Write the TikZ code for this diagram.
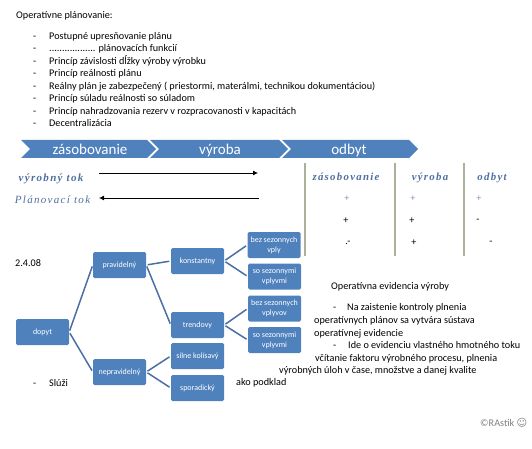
\documentclass[tikz,border=0pt]{standalone}
\usepackage{fontspec}
\setmainfont{Carlito}
\newfontfamily\flowfont[LetterSpace=12]{Liberation Serif}
\newfontfamily\symfont{DejaVu Sans}
\usetikzlibrary{arrows.meta}
\definecolor{boxblue}{HTML}{4F81BD}
\definecolor{linkblue}{HTML}{4A6FA5}
\definecolor{barcol}{HTML}{ABB29C}
\definecolor{flowblue}{HTML}{4F6F9F}
\tikzset{
  body/.style={anchor=base west,inner sep=0pt,font=\fontsize{10.2}{12}\selectfont,text=black},
  tbox/.style={draw=none,fill=boxblue,rounded corners=1.5pt,minimum width=53pt,minimum height=26pt,inner sep=0pt,align=center,text=white,font=\fontsize{8}{10}\selectfont},
  link/.style={draw=linkblue,line width=1.5pt,shorten >=1.5pt,shorten <=1.5pt},
  chev/.style={fill=boxblue,draw=none},
  chevtext/.style={anchor=base,inner sep=0pt,text=white,font=\fontsize{15}{18}\selectfont},
  flowlabel/.style={anchor=base,inner sep=0pt,text=flowblue,font=\fontsize{11}{13}\flowfont\bfseries\itshape},
  flowlight/.style={anchor=base,inner sep=0pt,text=flowblue,font=\fontsize{11}{13}\flowfont\itshape},
  headlabel/.style={anchor=base,inner sep=0pt,text=flowblue,font=\fontsize{10.8}{13}\flowfont\bfseries\itshape},
  cellmark/.style={inner sep=0pt,font=\fontsize{10.2}{12}\selectfont},
  bluecell/.style={inner sep=0pt,text=flowblue!70,font=\fontsize{10.2}{12}\selectfont},
  tokarrow/.style={draw=black,line width=0.8pt,-{Latex[length=5pt,width=5pt]}},
  bar/.style={draw=barcol,line width=2.5pt},
}
\begin{document}
\begin{tikzpicture}[x=1pt,y=-1pt]
\useasboundingbox (0,0) rectangle (532,449);
% header list
\node[body] (h0) at (16,18.5) {Operatívne plánovanie:};
\foreach \nm/\yy/\tx in {
 a/39.5/{Postupné  upresňovanie plánu},
 b/52/{.................. plánovacích funkcií},
 c/64.5/{Princíp závislosti dĺžky výroby výrobku},
 d/77/{Princíp reálnosti plánu},
 e/89.5/{Reálny plán je zabezpečený  ( priestormi,  materálmi, technikou  dokumentáciou)},
 f/102/{Princíp súladu reálnosti so súladom},
 g/114.5/{Princíp nahradzovania rezerv v rozpracovanosti v kapacitách},
 i/127/{Decentralizácia}}{
  \node[body] (d\nm) at (33,\yy) {-};
  \node[body] (t\nm) at (49,\yy) {\tx};
}
% chevrons
\fill[chev] (21,140) -- (147,140) -- (156,149) -- (147,158) -- (21,158) -- (30,149) -- cycle;
\fill[chev] (150,140) -- (279,140) -- (288,149) -- (279,158) -- (150,158) -- (159,149) -- cycle;
\fill[chev] (282,140) -- (409,140) -- (418,149) -- (409,158) -- (282,158) -- (291,149) -- cycle;
\node[chevtext] (c1) at (90,154) {zásobovanie};
\node[chevtext] (c2) at (220,154) {výroba};
\node[chevtext] (c3) at (349,154) {odbyt};
% flows
\node[flowlabel] (f1) at (51,181) {výrobný tok};
\node[flowlight] (f2) at (52.5,203) {Plánovací tok};
\coordinate (a1s) at (99,173); \coordinate (a1e) at (258,173);
\coordinate (a2s) at (259,198); \coordinate (a2e) at (99,198);
\draw[tokarrow] (a1s) -- (a1e);
\draw[tokarrow] (a2s) -- (a2e);
% table bars
\coordinate (b1t) at (305,163); \coordinate (b1b) at (305,256);
\coordinate (b2t) at (395,163); \coordinate (b2b) at (395,256);
\coordinate (b3t) at (464,163); \coordinate (b3b) at (464,256);
\draw[bar] (b1t) -- (b1b);
\draw[bar] (b2t) -- (b2b);
\draw[bar] (b3t) -- (b3b);
\node[headlabel] (th1) at (346,180.5) {zásobovanie};
\node[headlabel] (th2) at (430,180.5) {výroba};
\node[headlabel] (th3) at (492,180.5) {odbyt};
\node[bluecell] (p1) at (347,199) {+};
\node[bluecell] (p2) at (413,199) {+};
\node[bluecell] (p3) at (479,199) {+};
\node[cellmark] (q1) at (346,221) {+};
\node[cellmark] (q2) at (412,221) {+};
\node[cellmark] (q3) at (478,221) {-};
\node[cellmark] (r1) at (348,243) {.-};
\node[cellmark] (r2) at (414,243) {+};
\node[cellmark] (r3) at (491,243) {-};
% tree
\node[tbox] (dopyt) at (42.5,332) {dopyt};
\node[tbox] (prav) at (119.5,265) {pravidelný};
\node[tbox] (neprav) at (119.5,372) {nepravidelný};
\node[tbox] (konst) at (197.5,261) {konstantny};
\node[tbox] (trend) at (197.5,325) {trendovy};
\node[tbox] (silne) at (197.5,356) {silne kolísavý};
\node[tbox] (spor) at (197.5,388) {sporadický};
\node[tbox] (k1) at (274,245) {bez sezonnych\\vply};
\node[tbox] (k2) at (274.5,276.5) {so sezonnymi\\vplyvmi};
\node[tbox] (t1) at (274.5,308.5) {bez sezonnych\\vplyvov};
\node[tbox] (t2) at (274.5,340) {so sezonnymi\\vplyvmi};
\foreach \p/\c in {dopyt/prav,dopyt/neprav,prav/konst,prav/trend,neprav/silne,neprav/spor,konst/k1,konst/k2,trend/t1,trend/t2}{
  \draw[link] (\p.east) -- (\c.west);
}
% side texts
\node[body] (date) at (15,266.5) {2.4.08};
\node[body] (sd) at (33,386.5) {-};
\node[body] (sl) at (49,386.5) {Slúži};
\node[body] (ako) at (236,385.5) {ako podklad};
\node[body] (e0) at (331,289.5) {Operatívna evidencia výroby};
\node[body] (e1d) at (333,310.5) {-};
\node[body] (e1) at (347,310.5) {Na zaistenie kontroly plnenia};
\node[body] (e2) at (314,323.5) {operatívnych plánov sa vytvára sústava};
\node[body] (e3) at (314,336.5) {operatívnej evidencie};
\node[body] (e4d) at (333,348.5) {-};
\node[body] (e4) at (348,348.5) {Ide o evidenciu vlastného hmotného toku};
\node[body] (e5) at (315,361.5) {včítanie faktoru výrobného procesu, plnenia};
\node[body] (e6) at (279,373.5) {výrobných úloh v čase, množstve a danej kvalite};
\node[body,text=black!50] (copy) at (480,426.5) {©RAstik {\symfont ☺}};
\end{tikzpicture}
\end{document}
